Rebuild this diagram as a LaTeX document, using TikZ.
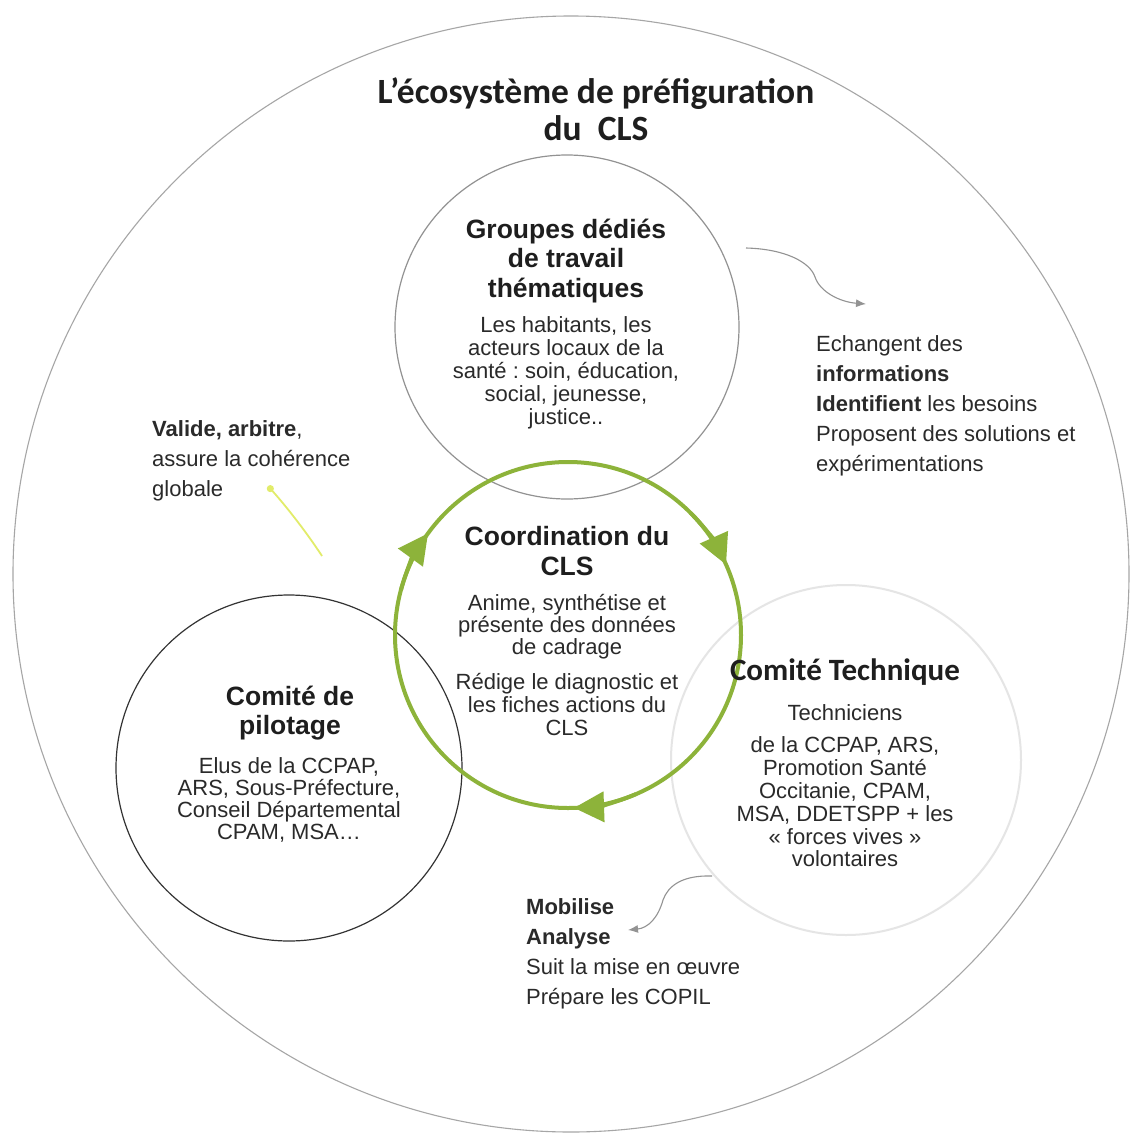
\documentclass[tikz,border=0pt]{standalone}
\usepackage{fontspec}
\setmainfont{Liberation Sans}
\newfontfamily\calib{Carlito}
\usetikzlibrary{arrows.meta}
\definecolor{cgreen}{HTML}{8DB33A}
\definecolor{cyell}{HTML}{E2EC6A}
\definecolor{ctext}{HTML}{1E1E1E}
\definecolor{cbody}{HTML}{2A2A2A}
\frenchspacing
\begin{document}
\begin{tikzpicture}[x=1pt,y=-1pt,
  ring/.style={circle, inner sep=0pt, minimum size=#1},
  head/.style={inner sep=0pt, align=center, text=ctext, font=\fontsize{26.5}{29.5}\selectfont\bfseries},
  body/.style={inner sep=0pt, align=center, text=cbody, font=\fontsize{22}{#1}\selectfont},
  side/.style={inner sep=0pt, align=left, anchor=west, text=cbody, font=\fontsize{22}{30}\selectfont},
  curvy/.style={draw=gray!85, line width=1.1pt, -{Latex[length=10pt,width=8pt]}},
  greentip/.style={draw=cgreen, line width=4pt, -{Triangle[length=30pt,width=30pt]}, cgreen}
]
\useasboundingbox (0,0) rectangle (1132,1135);
\fill[white] (0,0) rectangle (1132,1135);

% circles
\node[ring=1116pt, draw=gray!70, line width=1.1pt] (outer) at (571,574) {};
\node[ring=344pt, draw=gray!45!black!55, line width=1.2pt] (groups) at (567,327) {};
\node[ring=350pt, draw=gray!20, line width=2pt] (tech) at (846,760) {};
\node[ring=346pt, draw=black!80, line width=1.2pt] (pil) at (289,768) {};
\node[ring=346pt, draw=cgreen, line width=4pt] (coord) at (568,635) {};

% green arrowheads
\draw[greentip] ([shift={(195:173)}]coord.center) arc[start angle=195, end angle=216, radius=173];
\draw[greentip] ([shift={(315:173)}]coord.center) arc[start angle=315, end angle=336, radius=173];
\draw[greentip] ([shift={(67:173)}]coord.center) arc[start angle=67, end angle=88, radius=173];

% title
\node[inner sep=0pt, align=center, text=ctext, font=\calib\fontsize{35.5}{37}\selectfont\bfseries] (title) at (596,109) {L’écosystème de préfiguration\\du~ CLS};

% groups
\node[head] (groupsh) at (566,261) {Groupes dédiés\\de travail\\thématiques};
\node[body=23] (groupsb) at (566,373) {Les habitants, les\\acteurs locaux de la\\santé : soin, éducation,\\social, jeunesse,\\justice..};

% coordination
\node[head] (coordh) at (567,551) {Coordination du\\CLS};
\node[body=22] (coordb1) at (567,627) {Anime, synthétise et\\présente des données\\de cadrage};
\node[body=23] (coordb2) at (567,704) {Rédige le diagnostic et\\les fiches actions du\\CLS};

% pilotage
\node[head] (pilh) at (290,713) {Comité de\\pilotage};
\node[body=22] (pilb) at (289,800) {Elus de la CCPAP,\\ARS, Sous-Préfecture,\\Conseil Départemental\\CPAM, MSA…};

% technique
\node[inner sep=0pt, text=ctext, font=\calib\fontsize{31}{33}\selectfont\bfseries] (techh) at (845,672) {Comité Technique};
\node[body=22] (techt) at (845,713) {Techniciens};
\node[body=22.8] (techb) at (845,802) {de la CCPAP, ARS,\\Promotion Santé\\Occitanie, CPAM,\\MSA, DDETSPP + les\\« forces vives »\\volontaires};

% side texts
\node[side] (right) at (816,406) {Echangent des\\\textbf{informations}\\\textbf{Identifient} les besoins\\Proposent des solutions et\\expérimentations};
\node[side] (left) at (152,461) {\textbf{Valide, arbitre},\\assure la cohérence\\globale};
\node[side] (bottom) at (526,954) {\textbf{Mobilise}\\\textbf{Analyse}\\Suit la mise en œuvre\\Prépare les COPIL};

% connectors
\coordinate (c1s) at (746,248);
\coordinate (c1e) at (866,304);
\draw[curvy] (c1s) .. controls (785,249) and (810,262) .. (815,277) .. controls (820,292) and (840,302) .. (c1e);
\coordinate (c2s) at (712,876);
\coordinate (c2e) at (628,930);
\draw[curvy] (c2s) .. controls (682,875) and (668,886) .. (663,900) .. controls (658,918) and (648,928) .. (c2e);
\coordinate (c3s) at (322,556);
\coordinate (c3e) at (268,486);
\draw[draw=cyell, line width=1.8pt, -{Circle[length=7pt]}] (c3s) .. controls (305,530) and (285,505) .. (c3e);
\end{tikzpicture}
\end{document}
